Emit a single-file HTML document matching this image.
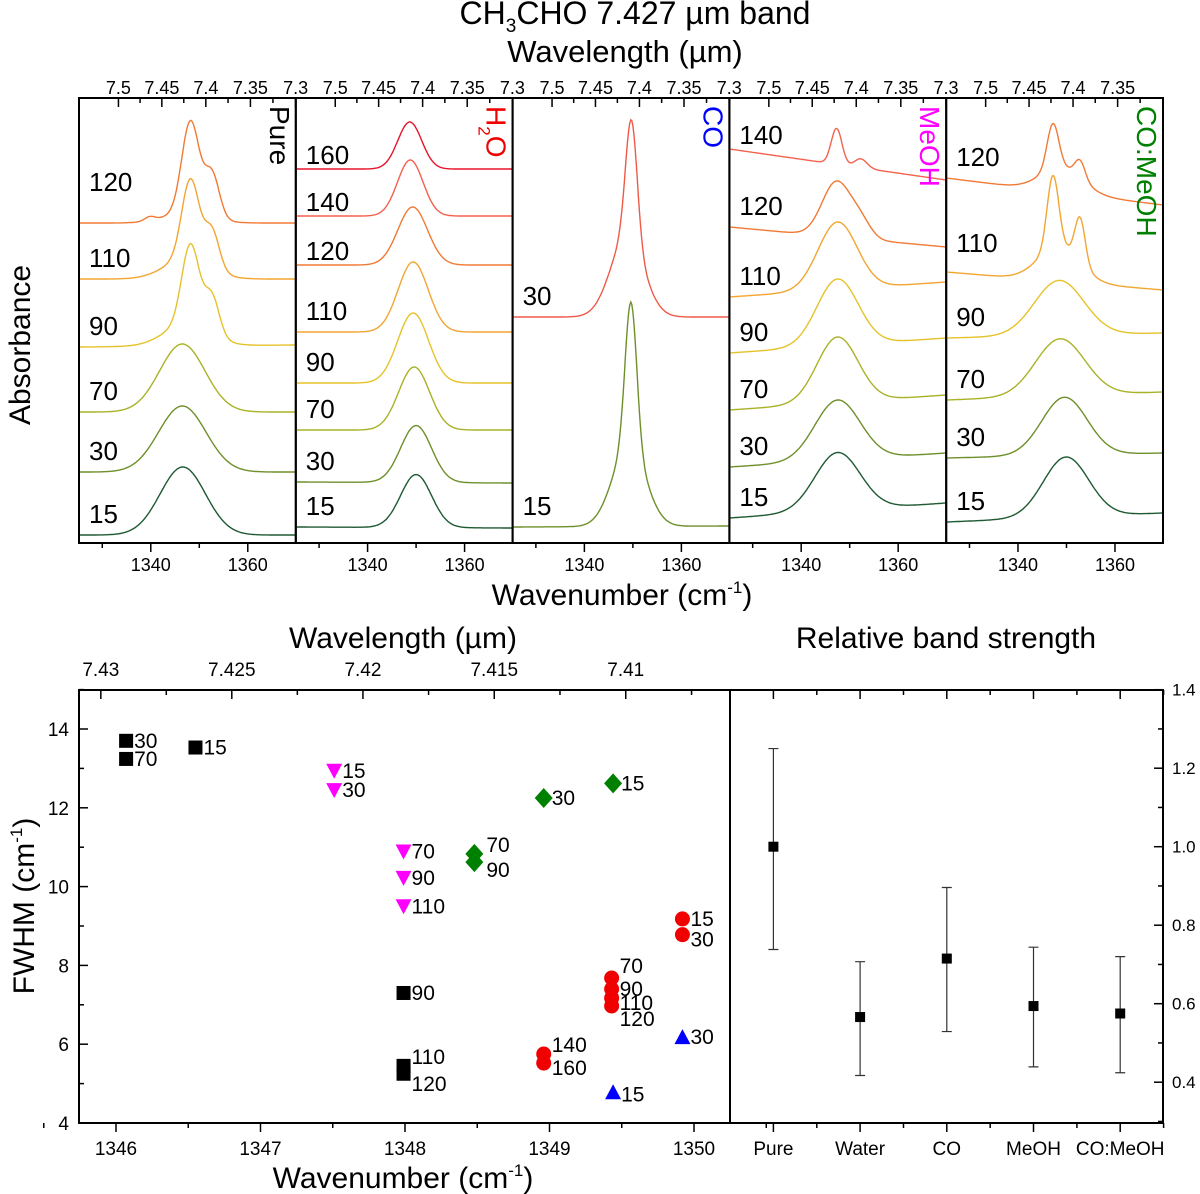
<!DOCTYPE html>
<html><head><meta charset="utf-8"><style>
html,body{margin:0;padding:0;background:#fff}
svg{display:block;font-family:"Liberation Sans",Arial,sans-serif}
</style></head><body>
<svg id="fig" width="1200" height="1194" viewBox="0 0 1200 1194" xmlns="http://www.w3.org/2000/svg">
<g id="topPanels"></g>
<g id="bot"></g>
<g id="rel"></g>
<text x="635" y="24" text-anchor="middle" font-size="32">CH<tspan font-size="19" dy="8">3</tspan><tspan dy="-8">CHO 7.427 µm band</tspan></text>
<text x="625" y="62" text-anchor="middle" font-size="31">Wavelength (µm)</text>
<text x="622" y="605" text-anchor="middle" font-size="30">Wavenumber (cm<tspan font-size="17" dy="-12">-1</tspan><tspan dy="12">)</tspan></text>
<text transform="translate(30,345) rotate(-90)" text-anchor="middle" font-size="30">Absorbance</text>
<text x="403" y="648" text-anchor="middle" font-size="30">Wavelength (µm)</text>
<text x="946" y="648" text-anchor="middle" font-size="30">Relative band strength</text>
<text x="403" y="1188" text-anchor="middle" font-size="30">Wavenumber (cm<tspan font-size="17" dy="-12">-1</tspan><tspan dy="12">)</tspan></text>
<text transform="translate(34,906) rotate(-90)" text-anchor="middle" font-size="30">FWHM (cm<tspan font-size="17" dy="-12">-1</tspan><tspan dy="12">)</tspan></text>
</svg>
<script>
// ===== Top spectra data =====
const panelNames = ["Pure","H2O","CO","MeOH","CO:MeOH"];
const panelColors = ["#000","#f00000","#0000ff","#ff00ff","#008000"];
const tempColors = {15:"#1e5a32",30:"#6e8f2a",70:"#a9b227",90:"#e6c22a",110:"#f2a531",120:"#f07a35",140:"#f3614e",160:"#e8142c"};
const pureTemps = [15,30,70,90,110,120];
const pureBase = [0.08,0.71,1.31,1.96,2.64,3.20];
const pureTilt = [0,0,0,0.02,0,0];
const purePeaks = [
 [[1346.6,11,0.68]],
 [[1346.5,11.5,0.66]],
 [[1346.5,11,0.68]],
 [[1348.2,4.2,0.80],[1352.6,3.6,0.38],[1347.5,11,0.22]],
 [[1348.2,4.2,0.80],[1352.6,3.6,0.38],[1347.5,11,0.20]],
 [[1348.2,4.2,0.92],[1352.6,3.6,0.44],[1347.5,11,0.10],[1339.8,2.5,0.04]]
];
const waterTemps = [15,30,70,90,110,120,140,160];
const waterBase = [0.16,0.61,1.13,1.60,2.11,2.78,3.27,3.74];
const waterTilt = [-0.01,-0.01,0,0,0,0,0,0];
const waterPeaks = [
 [[1350.0,7.5,0.53]],[[1350.0,7.5,0.57]],[[1349.6,7.5,0.63]],[[1349.4,7.5,0.70]],
 [[1349.4,7.3,0.70]],[[1349.3,7.2,0.58]],[[1348.8,6.2,0.56]],[[1348.7,5.8,0.47]]
];
const coTemps = [15,30];
const coBase = [0.16,2.26];
const coTilt = [0.01,0];
const coPeaks = [
 [[1349.6,2.8,1.45],[1349.2,8,0.80]],
 [[1349.7,2.8,1.20],[1348.8,8,0.80]]
];
const meohTemps = [15,30,70,90,110,120,140];
const meohBase = [0.25,0.76,1.33,1.90,2.46,3.16,3.94];
const meohTilt = [0.15,0.14,0.15,0.15,0.15,-0.20,-0.31];
const meohPeaks = [
 [[1347.5,11,0.58]],[[1347.5,11,0.60]],[[1347.5,10,0.655]],[[1347.5,10,0.665]],
 [[1347.5,9.5,0.675]],[[1347.3,7,0.55],[1352.3,5,0.15]],[[1347.3,2.6,0.36],[1352.3,3,0.09]]
];
const comTemps = [15,30,70,90,110,120];
const comBase = [0.21,0.85,1.43,2.05,2.71,3.65];
const comTilt = [0.09,0.05,0.08,0.05,-0.18,-0.27];
const comPeaks = [
 [[1349.9,11,0.60]],[[1349.6,11,0.58]],[[1348.7,12,0.57]],[[1348.5,12,0.55]],
 [[1347.2,2.8,0.72],[1348.5,10,0.35],[1352.8,2.5,0.45]],
 [[1347.2,2.8,0.45],[1349,10,0.25],[1352.8,2.5,0.18]]
];
const coOverride = {30:"#ef5a48",15:"#6e8f2a"};
const topTicksWn = [1340,1360];
const topMinorWn = [1330,1350];
const topTicksWl = [7.5,7.45,7.4,7.35,7.3];
const tempLabelShift = [[0,0,0,0,0,-20],[0,0,0,0,0,7,7,7],[0,0],[0,0,0,0,0,0,7],[0,0,0,0,-8,0]];

// ===== FWHM scatter data =====
const pureWn = [1346.07,1346.07,1346.55,1347.99,1347.99,1347.99];
const pureFwhm = [13.70,13.24,13.53,7.30,5.45,5.25];
const pureLbl = ["30","70","15","90","110","120"];
const waterWn = [1349.92,1349.92,1349.43,1349.43,1349.43,1349.43,1348.96,1348.96];
const waterFwhm = [9.18,8.78,7.68,7.40,7.17,6.97,5.75,5.52];
const waterLbl = ["15","30","70","90","110","120","140","160"];
const coWn = [1349.44,1349.92];
const coFwhm = [4.78,6.18];
const coLbl = ["15","30"];
const meohWn = [1347.51,1347.51,1347.99,1347.99,1347.99];
const meohFwhm = [12.94,12.45,10.89,10.22,9.50];
const meohLbl = ["15","30","70","90","110"];
const comWn = [1349.44,1348.96,1348.48,1348.48];
const comFwhm = [12.62,12.25,10.83,10.62];
const comLbl = ["15","30","70","90"];
const fwhmYTicks = [4,6,8,10,12,14];
const wnXTicks = [1346,1347,1348,1349,1350];
const wlXTicks = [7.43,7.425,7.42,7.415,7.41];

// ===== Relative band strength =====
const relCats = ["Pure","Water","CO","MeOH","CO:MeOH"];
const relVals = [1.0,0.566,0.715,0.594,0.575];
const relUpper = [1.25,0.707,0.896,0.744,0.72];
const relLower = [0.738,0.417,0.529,0.439,0.424];
const relTicks = [0.4,0.6,0.8,1.0,1.2,1.4];

const NS="http://www.w3.org/2000/svg";
function mk(tag,attrs,parent){const e=document.createElementNS(NS,tag);for(const k in attrs)e.setAttribute(k,attrs[k]);parent.appendChild(e);return e;}

// ---- Top panels ----
const topG=document.getElementById('topPanels');
const PW=216.8, PX0=79, PT=98, PB=543, WN0=1325.2, PXU=4.85;
function xT(p,wn){return PX0+p*PW+(wn-WN0)*PXU;}
function yT(a){return PB-a*100;}
const allTemps=[pureTemps,waterTemps,coTemps,meohTemps,comTemps];
const allBase=[pureBase,waterBase,coBase,meohBase,comBase];
const allTilt=[pureTilt,waterTilt,coTilt,meohTilt,comTilt];
const allPeaks=[purePeaks,waterPeaks,coPeaks,meohPeaks,comPeaks];
for(let p=0;p<5;p++){
  const L=PX0+p*PW, R=L+PW;
  const wnR=WN0+PW/PXU;
  for(let i=0;i<allTemps[p].length;i++){
    const t=allTemps[p][i];
    let d="";
    for(let s=0;s<=200;s++){
      const wn=WN0+(wnR-WN0)*s/200;
      let a=allBase[p][i]+allTilt[p][i]*s/200;
      for(const c of allPeaks[p][i]) a+=c[2]*Math.exp(-4*Math.LN2*Math.pow((wn-c[0])/c[1],2));
      d+=(s?"L":"M")+xT(p,wn).toFixed(1)+" "+yT(a).toFixed(1);
    }
    const col=(p===2&&coOverride[t])?coOverride[t]:tempColors[t];
    const path=mk('path',{d:d,fill:'none',stroke:col,'stroke-width':1.4},topG);
    
    
    const lbl=mk('text',{x:L+10,y:yT(allBase[p][i])-12+tempLabelShift[p][i],'font-size':26},topG);
    lbl.textContent=t;
    
    
  }
  const fr=mk('rect',{x:L,y:PT,width:PW,height:PB-PT,fill:'none',stroke:'#000','stroke-width':2},topG);
  
  
  for(const wn of topTicksWn){
    mk('line',{x1:xT(p,wn),x2:xT(p,wn),y1:PB,y2:PB+9,stroke:'#000','stroke-width':1.5},topG);
    const tl=mk('text',{x:xT(p,wn),y:PB+28,'font-size':18,'text-anchor':'middle'},topG);
    tl.textContent=wn;
    
    
  }
  for(const wn of topMinorWn) mk('line',{x1:xT(p,wn),x2:xT(p,wn),y1:PB,y2:PB+5,stroke:'#000','stroke-width':1.5},topG);
  for(let k=0;k<topTicksWl.length;k++){
    const wl=topTicksWl[k], wn=1e4/wl, x=xT(p,wn);
    if(x<=R+1) mk('line',{x1:x,x2:x,y1:PT,y2:PT+9,stroke:'#000','stroke-width':1.5},topG);
    const wm=1e4/(wl-0.025), xm=xT(p,wm);
    if(xm<R-1) mk('line',{x1:xm,x2:xm,y1:PT,y2:PT+5,stroke:'#000','stroke-width':1.5},topG);
    if(p===4&&wl===7.3) continue;
    const tl=mk('text',{x:x,y:PT-4,'font-size':18,'text-anchor':'middle'},topG);
    tl.textContent=wl;
    
    
  }
  const tt=mk('text',{transform:'translate('+(R-26)+','+(PT+8)+') rotate(90)','font-size':28,fill:panelColors[p]},topG);
  if(p===1){
    tt.appendChild(document.createTextNode('H'));
    const s1=mk('tspan',{'font-size':17,dy:8},tt); s1.textContent='2';
    const s2=mk('tspan',{dy:-8},tt); s2.textContent='O';
  } else tt.textContent=panelNames[p];
  
  
}

// ---- Bottom-left scatter ----
const bot=document.getElementById('bot');
const BL=79, BR=730, BT=690, BB=1123;
function xB(wn){return 116+(wn-1346)*144.5;}
function yB(v){return BB-(v-4)*39.4;}
const bf=mk('rect',{x:BL,y:BT,width:BR-BL,height:BB-BT,fill:'none',stroke:'#000','stroke-width':2},bot);


for(const v of fwhmYTicks){
  mk('line',{x1:BL,x2:BL+9,y1:yB(v),y2:yB(v),stroke:'#000','stroke-width':1.5},bot);
  mk('line',{x1:BL,x2:BL+5,y1:yB(v+1),y2:yB(v+1),stroke:'#000','stroke-width':1.5},bot);
  const tl=mk('text',{x:BL-10,y:yB(v)+7,'font-size':19,'text-anchor':'end'},bot);
  tl.textContent=v;
  
  
}
for(const wn of wnXTicks){
  mk('line',{x1:xB(wn),x2:xB(wn),y1:BB,y2:BB+9,stroke:'#000','stroke-width':1.5},bot);
  mk('line',{x1:xB(wn+0.5),x2:xB(wn+0.5),y1:BB,y2:BB+5,stroke:'#000','stroke-width':1.5},bot);
  const tl=mk('text',{x:xB(wn),y:BB+32,'font-size':19,'text-anchor':'middle'},bot);
  tl.textContent=wn;
  
  
}
mk('line',{x1:xB(1345.5),x2:xB(1345.5),y1:BB,y2:BB+5,stroke:'#000','stroke-width':1.5},bot);
for(const wl of wlXTicks){
  const x=xB(1e4/wl);
  mk('line',{x1:x,x2:x,y1:BT,y2:BT+9,stroke:'#000','stroke-width':1.5},bot);
  const xm=xB(1e4/(wl-0.0025));
  if(xm<BR) mk('line',{x1:xm,x2:xm,y1:BT,y2:BT+5,stroke:'#000','stroke-width':1.5},bot);
  const tl=mk('text',{x:x,y:BT-14,'font-size':19,'text-anchor':'middle'},bot);
  tl.textContent=wl;
  
  
}
const lblDy={pure:[0,0,0,0,-9,10],water:[0,5,-12,0,5,13,-9,5],co:[2,0],meoh:[0,0,0,0,0],com:[0,0,-9,8]};
function marker(kind,x,y,col){
  if(kind==='sq') return mk('rect',{x:x-7,y:y-7,width:14,height:14,fill:col},bot);
  if(kind==='ci') return mk('circle',{cx:x,cy:y,r:7.5,fill:col},bot);
  if(kind==='dn') return mk('path',{d:`M${x-8} ${y-7}L${x+8} ${y-7}L${x} ${y+8}Z`,fill:col},bot);
  if(kind==='up') return mk('path',{d:`M${x-8} ${y+7}L${x+8} ${y+7}L${x} ${y-8}Z`,fill:col},bot);
  return mk('path',{d:`M${x} ${y-10}L${x+9} ${y}L${x} ${y+10}L${x-9} ${y}Z`,fill:col},bot);
}
const series=[
 ['pure',pureWn,pureFwhm,pureLbl,'sq','#000'],
 ['water',waterWn,waterFwhm,waterLbl,'ci','#f00000'],
 ['co',coWn,coFwhm,coLbl,'up','#0000ff'],
 ['meoh',meohWn,meohFwhm,meohLbl,'dn','#ff00ff'],
 ['com',comWn,comFwhm,comLbl,'di','#008000']
];
for(const s of series){
  for(let i=0;i<s[1].length;i++){
    const x=xB(s[1][i]), y=yB(s[2][i]);
    const m=marker(s[4],x,y,s[5]);
    
    
    const dx=(s[0]==='com'&&i>=2)?12:8;
    const tl=mk('text',{x:x+dx,y:y+lblDy[s[0]][i]+7,'font-size':21},bot);
    tl.textContent=s[3][i];
    
    
  }
}

// ---- Right panel ----
const rel=document.getElementById('rel');
const RL=730, RR=1163;
function xR(i){return RL+43.4+i*86.7;}
function yR(v){return 846.7-(v-1)*392.5;}
const rf=mk('rect',{x:RL,y:BT,width:RR-RL,height:BB-BT,fill:'none',stroke:'#000','stroke-width':2},rel);


for(const v of relTicks){
  mk('line',{x1:RR-9,x2:RR,y1:yR(v),y2:yR(v),stroke:'#000','stroke-width':1.5},rel);
  if(v<1.35) mk('line',{x1:RR-5,x2:RR,y1:yR(v+0.1),y2:yR(v+0.1),stroke:'#000','stroke-width':1.5},rel);
  const tl=mk('text',{x:RR+9,y:yR(v)+6,'font-size':17},rel);
  tl.textContent=v.toFixed(1);
  
  
}
mk('line',{x1:RR-5,x2:RR,y1:yR(0.3),y2:yR(0.3),stroke:'#000','stroke-width':1.5},rel);
for(let i=0;i<relCats.length;i++){
  const x=xR(i);
  mk('line',{x1:x,x2:x,y1:BB,y2:BB+9,stroke:'#000','stroke-width':1.5},rel);
  mk('line',{x1:x,x2:x,y1:BT,y2:BT+9,stroke:'#000','stroke-width':1.5},rel);
  mk('line',{x1:x+43.4,x2:x+43.4,y1:BB,y2:BB+5,stroke:'#000','stroke-width':1.5},rel);
  mk('line',{x1:x+43.4,x2:x+43.4,y1:BT,y2:BT+5,stroke:'#000','stroke-width':1.5},rel);
  const tl=mk('text',{x:x,y:BB+32,'font-size':19,'text-anchor':'middle'},rel);
  tl.textContent=relCats[i];
  
  
  const eb=mk('path',{d:`M${x} ${yR(relUpper[i])}L${x} ${yR(relLower[i])}M${x-5} ${yR(relUpper[i])}L${x+5} ${yR(relUpper[i])}M${x-5} ${yR(relLower[i])}L${x+5} ${yR(relLower[i])}`,stroke:'#333','stroke-width':1.2,fill:'none'},rel);
  
  
  const pt=mk('rect',{x:x-5,y:yR(relVals[i])-5,width:10,height:10,fill:'#000'},rel);
  
  
}
</script>
</body></html>
